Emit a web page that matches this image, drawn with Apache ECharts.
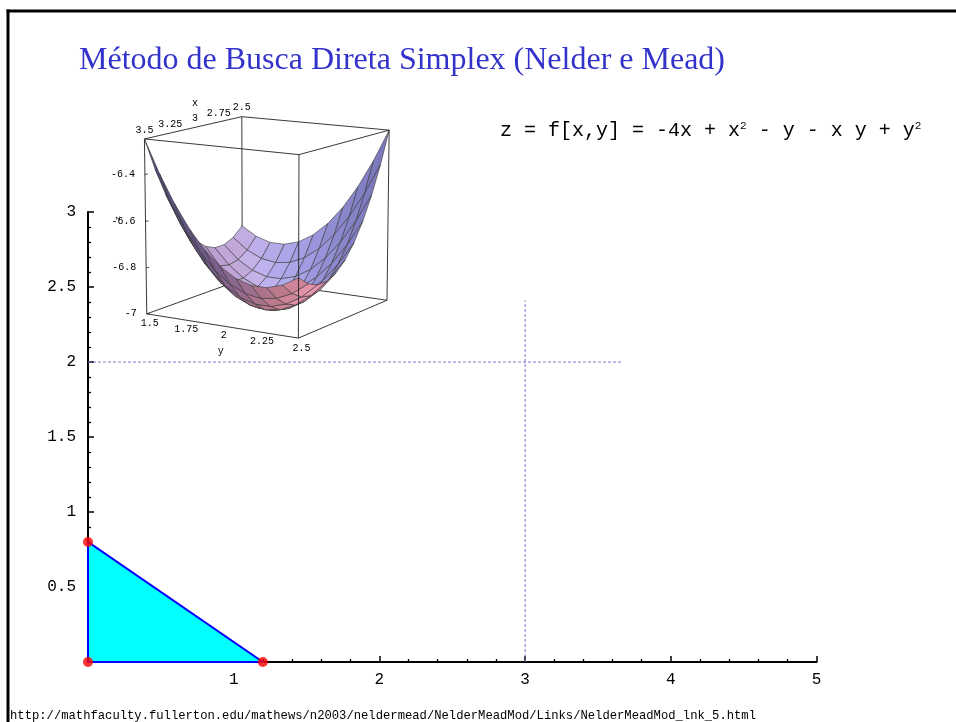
<!DOCTYPE html>
<html><head><meta charset="utf-8">
<script src="https://cdn.jsdelivr.net/npm/echarts/dist/echarts.min.js"></script>
<style>html,body{margin:0;padding:0;background:#fff;}#c{width:956px;height:722px;}</style>
</head><body><div id="c"></div>
<script>
// ---------------- main plot data ----------------
const simplexX = [0, 1.2, 0];
const simplexY = [0, 0, 0.8];
const guideVX = [3, 3];
const guideVY = [0, 2.41];
const guideHX = [0, 3.67];
const guideHY = [2, 2];
const titleText = 'Método de Busca Direta Simplex (Nelder e Mead)';
const footerText = 'http://mathfaculty.fullerton.edu/mathews/n2003/neldermead/NelderMeadMod/Links/NelderMeadMod_lnk_5.html';

// ---------------- inset surface data (z = f[x,y]) ----------------
const insetX = [2.5, 2.6, 2.7, 2.8, 2.9, 3.0, 3.1, 3.2, 3.3, 3.4, 3.5];
const insetY = [1.5, 1.6, 1.7, 1.8, 1.9, 2.0, 2.1, 2.2, 2.3, 2.4, 2.5];
const insetZ = [
  [-6.75,-6.79,-6.81,-6.81,-6.79,-6.75,-6.69,-6.61,-6.51,-6.39,-6.25],
  [-6.79,-6.84,-6.87,-6.88,-6.87,-6.84,-6.79,-6.72,-6.63,-6.52,-6.39],
  [-6.81,-6.87,-6.91,-6.93,-6.93,-6.91,-6.87,-6.81,-6.73,-6.63,-6.51],
  [-6.81,-6.88,-6.93,-6.96,-6.97,-6.96,-6.93,-6.88,-6.81,-6.72,-6.61],
  [-6.79,-6.87,-6.93,-6.97,-6.99,-6.99,-6.97,-6.93,-6.87,-6.79,-6.69],
  [-6.75,-6.84,-6.91,-6.96,-6.99,-7.00,-6.99,-6.96,-6.91,-6.84,-6.75],
  [-6.69,-6.79,-6.87,-6.93,-6.97,-6.99,-6.99,-6.97,-6.93,-6.87,-6.79],
  [-6.61,-6.72,-6.81,-6.88,-6.93,-6.96,-6.97,-6.96,-6.93,-6.88,-6.81],
  [-6.51,-6.63,-6.73,-6.81,-6.87,-6.91,-6.93,-6.93,-6.91,-6.87,-6.81],
  [-6.39,-6.52,-6.63,-6.72,-6.79,-6.84,-6.87,-6.88,-6.87,-6.84,-6.79],
  [-6.25,-6.39,-6.51,-6.61,-6.69,-6.75,-6.79,-6.81,-6.81,-6.79,-6.75]
];
const insetZRange = [-7, -6.25];
const insetXTicks = [3.5, 3.25, 3, 2.75, 2.5];
const insetYTicks = [1.5, 1.75, 2, 2.25, 2.5];
const insetZTicks = [-7, -6.8, -6.6, -6.4];

// ---------------- projection (view) ----------------
const az = 31.9 * Math.PI / 180, el = 11.5 * Math.PI / 180, camDist = 10.8;
const ca = Math.cos(az), sa = Math.sin(az), ce = Math.cos(el), se = Math.sin(el);
const R1 = [-sa, ca, 0], R2 = [-se * ca, -se * sa, ce], R3 = [ce * ca, ce * sa, se];
const dot = (a, b) => a[0] * b[0] + a[1] * b[1] + a[2] * b[2];
const xLo = insetX[0], xHi = insetX[insetX.length - 1];
const yLo = insetY[0], yHi = insetY[insetY.length - 1];
function toBox(x, y, z) {
  return [(x - xLo) / (xHi - xLo), (y - yLo) / (yHi - yLo), (z - insetZRange[0]) / (insetZRange[1] - insetZRange[0])];
}
function project(b) {
  const P = [b[0] - 0.5, b[1] - 0.5, b[2] - 0.5];
  const d = dot(R3, P);
  const f = camDist / (camDist - d);
  return [dot(R1, P) * f, dot(R2, P) * f, d];
}
const lights = [
  { dir: [0.1, 0.8, 0.6], col: [128, 122, 140] },
  { dir: [-1, 0.3, 0.2], col: [50, 55, 100] },
  { dir: [0.4, -1, 0.2], col: [180, 110, 110] },
  { dir: [1, 0.2, 0.3], col: [60, 40, 60] }
];
const ambient = [32, 26, 44];
function shade(p) {
  const a = [p[2][0] - p[0][0], p[2][1] - p[0][1], p[2][2] - p[0][2]];
  const b = [p[3][0] - p[1][0], p[3][1] - p[1][1], p[3][2] - p[1][2]];
  let n = [a[1] * b[2] - a[2] * b[1], a[2] * b[0] - a[0] * b[2], a[0] * b[1] - a[1] * b[0]];
  const ln = Math.hypot(n[0], n[1], n[2]);
  n = n.map(v => v / ln);
  let nc = [dot(n, R1), dot(n, R2), dot(n, R3)];
  if (nc[2] < 0) nc = nc.map(v => -v);
  const c = ambient.slice();
  lights.forEach(L => {
    const l = Math.hypot(L.dir[0], L.dir[1], L.dir[2]);
    const k = Math.max(0, (nc[0] * L.dir[0] + nc[1] * L.dir[1] + nc[2] * L.dir[2]) / l);
    for (let m = 0; m < 3; m++) c[m] += L.col[m] * k;
  });
  return 'rgb(' + c.map(v => Math.round(Math.min(255, v))).join(',') + ')';
}
// cells sorted far-to-near
const cells = [];
for (let i = 0; i < insetX.length - 1; i++) {
  for (let j = 0; j < insetY.length - 1; j++) {
    let d = 0;
    [[i, j], [i + 1, j], [i + 1, j + 1], [i, j + 1]].forEach(([a, b]) => {
      d += project(toBox(insetX[a], insetY[b], insetZ[a][b]))[2];
    });
    cells.push([i, j, d / 4]);
  }
}
cells.sort((u, v) => u[2] - v[2]);

const backEdges = [[[0,0,0],[1,0,0]], [[0,0,0],[0,1,0]], [[0,0,0],[0,0,1]]];
const frontEdges = [
  [[0,0,1],[1,0,1]], [[0,0,1],[0,1,1]], [[1,0,1],[1,1,1]], [[0,1,1],[1,1,1]],
  [[1,0,0],[1,1,0]], [[0,1,0],[1,1,0]],
  [[1,0,0],[1,0,1]], [[1,1,0],[1,1,1]], [[0,1,0],[0,1,1]]
];

const monoFont = "'Liberation Mono', 'DejaVu Sans Mono', monospace";

function edgeShapes(list, api) {
  return list.map(e => {
    const p1 = project(e[0]), p2 = project(e[1]);
    const a = api.coord([p1[0], p1[1]]), b = api.coord([p2[0], p2[1]]);
    return { type: 'line', shape: { x1: a[0], y1: a[1], x2: b[0], y2: b[1] }, style: { stroke: '#222', lineWidth: 0.9 } };
  });
}
function txt(x, y, s, align, size, rot) {
  return { type: 'text', x: x, y: y, rotation: rot || 0,
    style: { text: s, font: (size || 10) + 'px ' + monoFont, fill: '#000', align: align || 'center', verticalAlign: 'middle' } };
}
function axisShapes(api) {
  const out = [];
  const pt = (b) => { const q = project(b); return api.coord([q[0], q[1]]); };
  insetXTicks.forEach(v => {
    const p = pt([(v - xLo) / (xHi - xLo), 0, 1]);
    out.push(txt(p[0], p[1] - 9, String(v)));
  });
  const px = pt([0.5, 0, 1]);
  out.push(txt(px[0], px[1] - 24, 'x'));
  insetYTicks.forEach(v => {
    const p = pt([1, (v - yLo) / (yHi - yLo), 0]);
    out.push(txt(p[0] + 3, p[1] + 10, String(v)));
  });
  const py = pt([1, 0.5, 0]);
  out.push(txt(py[0], py[1] + 26, 'y'));
  insetZTicks.forEach(v => {
    const p = pt([1, 0, (v - insetZRange[0]) / (insetZRange[1] - insetZRange[0])]);
    out.push(txt(p[0] - 10, p[1], String(v), 'right'));
    out.push({ type: 'line', shape: { x1: p[0], y1: p[1], x2: p[0] + 3, y2: p[1] - 0.5 }, style: { stroke: '#222', lineWidth: 0.8 } });
  });
  const pz = pt([1, 0, 0.55]);
  out.push(txt(pz[0] - 28, pz[1], 'z', 'center', 8, Math.PI / 2));
  return out;
}

const chart = echarts.init(document.getElementById('c'), null, { renderer: 'canvas' });
const labelFmt = v => (v === 0 ? '' : String(v));

const option = {
  animation: false,
  backgroundColor: '#fff',
  grid: [
    { left: 88, right: 139.5, top: 212, bottom: 60, outerBoundsMode: 'none', containLabel: false },
    { left: 92.6, top: 45.5, width: 352, height: 352, outerBoundsMode: 'none', containLabel: false }
  ],
  xAxis: [
    { type: 'value', gridIndex: 0, min: 0, max: 5, interval: 1,
      axisLine: { show: true, onZero: false, lineStyle: { color: '#000', width: 2 } },
      axisTick: { show: true, inside: true, length: 6, lineStyle: { color: '#000', width: 1.5 } },
      minorTick: { show: true, splitNumber: 5, length: 3, lineStyle: { color: '#000', width: 1.3 } },
      splitLine: { show: false }, minorSplitLine: { show: false },
      axisLabel: { formatter: labelFmt, margin: 10, fontFamily: monoFont, fontSize: 16, color: '#000' } },
    { type: 'value', gridIndex: 1, min: -1, max: 1, show: false }
  ],
  yAxis: [
    { type: 'value', gridIndex: 0, min: 0, max: 3, interval: 0.5,
      axisLine: { show: true, onZero: false, lineStyle: { color: '#000', width: 2 } },
      axisTick: { show: true, inside: true, length: 6, lineStyle: { color: '#000', width: 1.5 } },
      minorTick: { show: true, splitNumber: 5, length: 3, lineStyle: { color: '#000', width: 1.3 } },
      splitLine: { show: false }, minorSplitLine: { show: false },
      axisLabel: { formatter: labelFmt, margin: 12, fontFamily: monoFont, fontSize: 16, color: '#000' } },
    { type: 'value', gridIndex: 1, min: -1, max: 1, show: false }
  ],
  graphic: [
    { type: 'line', shape: { x1: 6.5, y1: 11, x2: 956, y2: 11 }, style: { stroke: '#000', lineWidth: 3 } },
    { type: 'line', shape: { x1: 8, y1: 9.5, x2: 8, y2: 722 }, style: { stroke: '#000', lineWidth: 3 } },
    { type: 'text', x: 79, y: 61, style: { text: titleText, font: "32px 'Liberation Serif', 'Times New Roman', serif", fill: '#3333cc', align: 'left', verticalAlign: 'middle' } },
    { type: 'text', x: 500, y: 131, style: {
        text: 'z = f[x,y] = -4x + x{s|2} - y - x y + y{s|2}',
        font: '20px ' + monoFont, fill: '#000', align: 'left', verticalAlign: 'middle',
        rich: { s: { fontSize: 11, fontFamily: monoFont, verticalAlign: 'top', lineHeight: 11 } } } },
    { type: 'text', x: 10, y: 716, style: { text: footerText, font: '12.2px ' + monoFont, fill: '#000', align: 'left', verticalAlign: 'middle' } }
  ],
  series: [
    { type: 'line', xAxisIndex: 0, yAxisIndex: 0, data: guideVX.map((x, k) => [x, guideVY[k]]), symbol: 'none', silent: true,
      lineStyle: { color: '#7878c8', width: 1, type: [3, 2] }, z: 1 },
    { type: 'line', xAxisIndex: 0, yAxisIndex: 0, data: guideHX.map((x, k) => [x, guideHY[k]]), symbol: 'none', silent: true,
      lineStyle: { color: '#7878c8', width: 1, type: [3, 2] }, z: 1 },
    { type: 'custom', xAxisIndex: 0, yAxisIndex: 0, z: 3,
      data: simplexX.map((x, k) => [x, simplexY[k]]),
      renderItem: (params, api) => {
        if (params.dataIndex !== 0) return null;
        const pts = simplexX.map((x, k) => api.coord([x, simplexY[k]]));
        return { type: 'polygon', shape: { points: pts }, style: { fill: '#00ffff', stroke: '#0000ff', lineWidth: 2 } };
      } },
    { type: 'scatter', xAxisIndex: 0, yAxisIndex: 0, z: 4, symbol: 'circle', symbolSize: 10,
      data: simplexX.map((x, k) => [x, simplexY[k]]), itemStyle: { color: '#ff0000' } },
    { type: 'custom', xAxisIndex: 1, yAxisIndex: 1, z: 5, data: [[0, 0]], silent: true,
      renderItem: (params, api) => ({ type: 'group', children: edgeShapes(backEdges, api) }) },
    { type: 'custom', xAxisIndex: 1, yAxisIndex: 1, z: 6, silent: true,
      data: cells.map(c => [c[0], c[1]]),
      renderItem: (params, api) => {
        const i = api.value(0), j = api.value(1);
        const bp = [[i, j], [i + 1, j], [i + 1, j + 1], [i, j + 1]].map(([a, b]) => toBox(insetX[a], insetY[b], insetZ[a][b]));
        const scr = bp.map(b => { const q = project(b); return api.coord([q[0], q[1]]); });
        return { type: 'polygon', shape: { points: scr }, style: { fill: shade(bp), stroke: '#3a3a3a', lineWidth: 0.6 } };
      } },
    { type: 'custom', xAxisIndex: 1, yAxisIndex: 1, z: 7, data: [[0, 0]], silent: true,
      renderItem: (params, api) => ({ type: 'group', children: edgeShapes(frontEdges, api).concat(axisShapes(api)) }) }
  ]
};
chart.setOption(option);
</script>
</body></html>
